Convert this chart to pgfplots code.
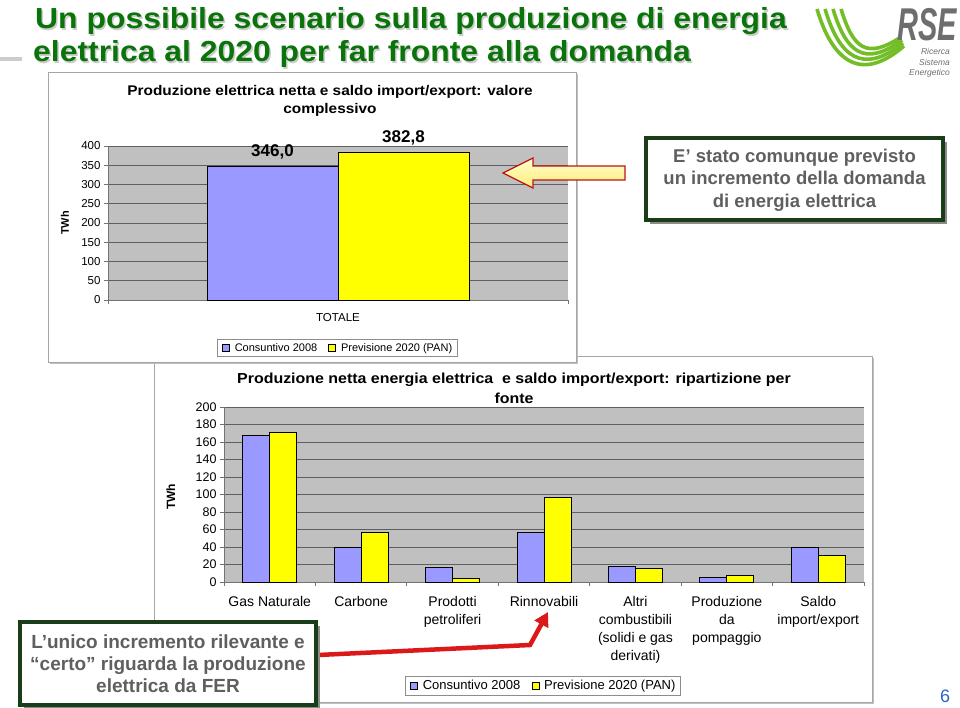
\documentclass[border=0pt]{standalone}
\usepackage{fontspec}
\setmainfont{Liberation Sans}
\newfontfamily\widefont[FakeStretch=1.1]{Liberation Sans}
\usepackage{graphicx}
\usepackage{pgfplots}
\pgfplotsset{compat=1.18}
\usetikzlibrary{arrows.meta}

\definecolor{consuntivo}{RGB}{153,153,255}
\definecolor{previsione}{RGB}{255,255,0}
\definecolor{plotbg}{RGB}{192,192,192}
\definecolor{gridc}{RGB}{95,95,95}
\definecolor{titlegreen}{RGB}{10,115,10}
\definecolor{boxgreen}{RGB}{25,60,25}
\definecolor{boxtext}{RGB}{95,95,95}
\definecolor{logogreen}{RGB}{115,190,40}
\definecolor{logogray}{RGB}{110,110,110}
\definecolor{arrowred}{RGB}{220,25,25}
\definecolor{pagenum}{RGB}{45,100,200}
\definecolor{arrowtop}{RGB}{255,255,205}
\definecolor{arrowbot}{RGB}{255,235,120}

\newcommand\fsz[2]{\fontsize{#1pt}{#2pt}\selectfont}

\pgfplotsset{
  excel/.style={
    scale only axis,
    axis background/.style={fill=plotbg},
    axis x line*=bottom, axis y line*=left,
    axis line style={draw=black!55, line width=0.8pt, -},
    ymajorgrids, grid style={draw=gridc, line width=0.9pt},
    ybar=0pt,
    tick align=outside,
    major tick length=4pt,
    minor tick length=4pt,
    tick style={draw=black!55, line width=0.8pt},
    /pgf/number format/assume math mode=true,
    legend style={draw=black!45, line width=0.6pt, legend columns=2, anchor=center,
      /tikz/every even column/.append style={column sep=7pt}},
  },
  sqleg/.style={legend image code/.code={%
    \path (0pt,0pt) (12pt,0pt);
    \draw[##1, draw=black, line width=0.5pt] (2pt,-3.5pt) rectangle (9pt,3.5pt);}},
}

\begin{document}
\begin{tikzpicture}
  % page, 1 px = 1 pt
  \fill[white] (0pt,0pt) rectangle (960pt,-708pt);
  \path[use as bounding box] (0pt,0pt) rectangle (960pt,-708pt);

  \begin{scope}[x=1pt, y=-1pt]
    % slide title
    \fill[black!20] (0,57) rectangle (22,61);
    \node[anchor=base west, inner sep=0, text=black!20, font=\widefont\bfseries\fsz{29}{33}] at (36.5,30.5) {Un possibile scenario sulla produzione di energia};
    \node[anchor=base west, inner sep=0, text=black!20, font=\widefont\bfseries\fsz{29}{33}] at (34.5,63.5) {elettrica al 2020 per far fronte alla domanda};
    \node[anchor=base west, inner sep=0, text=titlegreen, font=\widefont\bfseries\fsz{29}{33}] at (35,29) {Un possibile scenario sulla produzione di energia};
    \node[anchor=base west, inner sep=0, text=titlegreen, font=\widefont\bfseries\fsz{29}{33}] at (33,62) {elettrica al 2020 per far fronte alla domanda};

    % logo
    \foreach \i in {0,1,2,3}
      \draw[logogreen, line width=3.6pt] ({817+8*\i},9) .. controls ({832+7*\i},{60-4*\i}) and ({860+2*\i},{84-8*\i}) .. ({904-\i},{46-3*\i});
    \node[anchor=north east, inner sep=0, text=logogray] at (957,8) {\scalebox{0.63}[1]{\fsz{46}{46}\bfseries\itshape RSE}};
    \node[anchor=east, inner sep=0, text=logogray, font=\itshape\fsz{8.5}{9}] at (950,51) {Ricerca};
    \node[anchor=east, inner sep=0, text=logogray, font=\itshape\fsz{8.5}{9}] at (950,62) {Sistema};
    \node[anchor=east, inner sep=0, text=logogray, font=\itshape\fsz{8.5}{9}] at (950,73) {Energetico};

    % frame of the lower chart
    \fill[black!25] (156,358) rectangle (874,704);
    \draw[black!35, line width=0.8pt, fill=white] (154,356) rectangle (872,702);
    \node[anchor=base, inner sep=0, font=\widefont\bfseries\fsz{14.5}{16}] at (514,383)
      {Produzione netta energia elettrica \ e saldo import/export: ripartizione per};
    \node[anchor=base, inner sep=0, font=\widefont\bfseries\fsz{14.5}{16}] at (514,403) {fonte};
  \end{scope}

  % lower chart: breakdown by source
  \begin{axis}[excel,
    at={(224pt,-582pt)}, anchor=south west,
    width=640pt, height=175pt,
    xmin=-0.5, xmax=6.5, ymin=0, ymax=200,
    ytick={0,20,...,200},
    xtick={0,...,6},
    xticklabels={Gas Naturale, Carbone, Prodotti\\petroliferi, Rinnovabili,
      Altri\\combustibili\\(solidi e gas\\derivati), Produzione\\da\\pompaggio,
      Saldo\\import/export},
    major x tick style={draw=none},
    minor xtick={-0.5,0.5,...,6.5},
    bar width=27pt,
    y tick label style={font=\fsz{12.5}{14}},
    x tick label style={font=\fsz{14}{18}, align=center, anchor=north, yshift=-7pt},
    ylabel={TWh},
    ylabel style={at={(-0.083,0.486)}, anchor=center, font=\bfseries\fsz{12}{14}},
    legend style={at={(0.498,-0.594)}, font=\fsz{13}{15}},
  ]
    \addplot[fill=consuntivo, draw=black, line width=0.8pt, sqleg] coordinates {
      (0,167) (1,39) (2,17) (3,57) (4,18) (5,5.5) (6,40)
    };
    \addlegendentry{Consuntivo 2008}
    \addplot[fill=previsione, draw=black, line width=0.8pt, sqleg] coordinates {
      (0,171) (1,56.5) (2,4.5) (3,97) (4,15) (5,7) (6,30)
    };
    \addlegendentry{Previsione 2020 (PAN)}
  \end{axis}

  \begin{scope}[x=1pt, y=-1pt]
    % frame of the upper chart
    \fill[black!25] (50,74) rectangle (578,364);
    \draw[black!35, line width=0.8pt, fill=white] (48,72) rectangle (576,362);
    \node[anchor=base, inner sep=0, font=\widefont\bfseries\fsz{14}{16}] at (330,96)
      {Produzione elettrica netta e saldo import/export: valore};
    \node[anchor=base, inner sep=0, font=\widefont\bfseries\fsz{14}{16}] at (330,114) {complessivo};
  \end{scope}

  % upper chart: total
  \begin{axis}[excel,
    at={(108pt,-300pt)}, anchor=south west,
    width=460pt, height=154pt,
    xmin=0, xmax=2, ymin=0, ymax=400,
    ytick={0,50,...,400},
    xtick={1}, xticklabels={TOTALE},
    major x tick style={draw=none},
    minor xtick={0,2},
    bar width=131pt,
    y tick label style={font=\fsz{11.5}{13}},
    x tick label style={font=\fsz{11.5}{13}, yshift=-6pt},
    ylabel={TWh},
    ylabel style={at={(-0.0935,0.5)}, anchor=center, font=\bfseries\fsz{11}{13}},
    legend style={at={(0.498,-0.312)}, font=\fsz{11}{13}},
    nodes near coords={\pgfmathprintnumber[fixed,fixed zerofill,precision=1,use comma]{\pgfplotspointmeta}},
    nodes near coords style={font=\bfseries\fsz{17}{19}, anchor=south, inner sep=2pt, yshift=5pt},
  ]
    \addplot[fill=consuntivo, draw=black, line width=0.8pt, sqleg] coordinates {(1,346.0)};
    \addlegendentry{Consuntivo 2008}
    \addplot[fill=previsione, draw=black, line width=0.8pt, sqleg] coordinates {(1,382.8)};
    \addlegendentry{Previsione 2020 (PAN)}
  \end{axis}

  \begin{scope}[x=1pt, y=-1pt]
    % yellow arrow towards the total
    \draw[draw=arrowred!85!black, line width=1.3pt, top color=arrowtop, bottom color=arrowbot]
      (503,173) -- (533,158) -- (533,166) -- (625,166) -- (625,180) -- (533,180) -- (533,188) -- cycle;

    % comment box, right
    \fill[black!45] (650,142) rectangle (947,224);
    \draw[boxgreen, line width=3.5pt, fill=white] (646,138) rectangle (943,220);
    \node[align=center, text=boxtext, font=\bfseries\fsz{18.5}{22.5}] at (794.5,180)
      {E’ stato comunque previsto\\un incremento della domanda\\di energia elettrica};

    % red arrow towards renewables
    \draw[arrowred, line width=4.5pt, -{Triangle[length=14pt, width=15pt]}]
      (318,655) -- (530,645) -- (548,612);

    % comment box, bottom left
    \fill[black!45] (24,626) rectangle (320,709);
    \draw[boxgreen, line width=3.5pt, fill=white] (20,622) rectangle (316,705);
    \node[align=center, text=boxtext, font=\bfseries\fsz{19}{22}] at (168,664)
      {L’unico incremento rilevante e\\“certo” riguarda la produzione\\elettrica da FER};

    % page number
    \node[inner sep=0, text=pagenum, font=\fsz{18}{20}] at (945,696) {6};
  \end{scope}
\end{tikzpicture}
\end{document}
